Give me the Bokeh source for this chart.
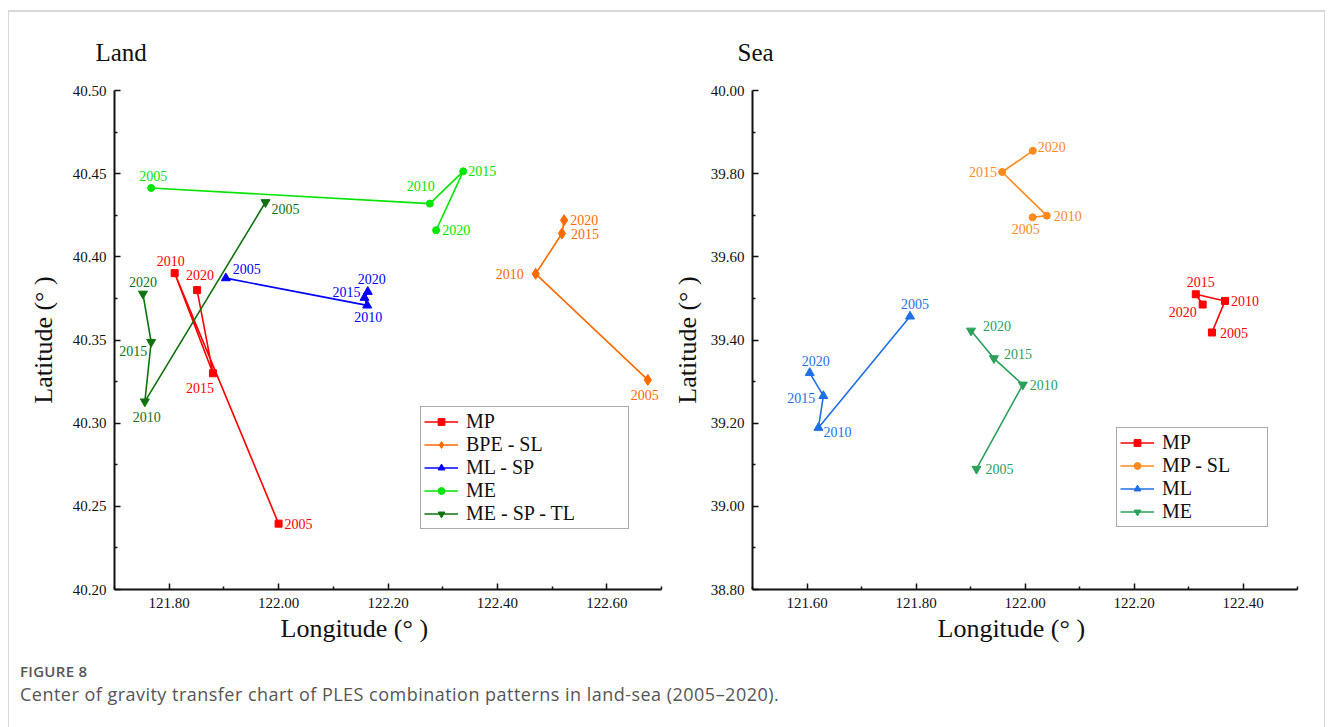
from bokeh.plotting import figure
from bokeh.models import (ColumnDataSource, FixedTicker, Legend, LegendItem, Div, Title)
from bokeh.layouts import row, column
from bokeh.core.properties import value
from bokeh.embed import file_html
from bokeh.resources import INLINE

# ---------------- data ----------------
YEARS = ["2005", "2010", "2015", "2020"]

# Land
land_MP_lon = [122.000, 121.810, 121.880, 121.851]
land_MP_lat = [40.2396, 40.3902, 40.330, 40.380]
land_BPE_lon = [122.675, 122.470, 122.518, 122.522]
land_BPE_lat = [40.326, 40.3898, 40.414, 40.422]
land_MLSP_lon = [121.9035, 122.162, 122.157, 122.163]
land_MLSP_lat = [40.3872, 40.3708, 40.3754, 40.379]
land_ME_lon = [121.767, 122.2765, 122.3375, 122.288]
land_ME_lat = [40.4414, 40.432, 40.4514, 40.416]
land_MESPTL_lon = [121.976, 121.7555, 121.767, 121.752]
land_MESPTL_lat = [40.4328, 40.313, 40.3488, 40.3778]

# Sea
sea_MP_lon = [122.343, 122.367, 122.3134, 122.326]
sea_MP_lat = [39.418, 39.494, 39.510, 39.4853]
sea_MPSL_lon = [122.014, 122.040, 121.958, 122.0143]
sea_MPSL_lat = [39.695, 39.699, 39.804, 39.855]
sea_ML_lon = [121.789, 121.621, 121.630, 121.605]
sea_ML_lat = [39.4567, 39.189, 39.2655, 39.321]
sea_ME_lon = [121.911, 121.996, 121.943, 121.901]
sea_ME_lat = [39.090, 39.2925, 39.356, 39.4223]

land_x_ticks = [121.80, 122.00, 122.20, 122.40, 122.60]
land_y_ticks = [40.20, 40.25, 40.30, 40.35, 40.40, 40.45, 40.50]
sea_x_ticks = [121.60, 121.80, 122.00, 122.20, 122.40]
sea_y_ticks = [38.80, 39.00, 39.20, 39.40, 39.60, 39.80, 40.00]

# label placement (screen px offset, alignment) per year
land_MP_pos = [(6, 0, "left"), (-4, -12, "center"), (-13, 15, "center"), (3, -15, "center")]
land_BPE_pos = [(-3, 15, "center"), (-12, 0, "right"), (9, 0, "left"), (6, 0, "left")]
land_MLSP_pos = [(7, -9, "left"), (1, 12, "center"), (-4, -6, "right"), (4, -13, "center")]
land_ME_pos = [(2, -12, "center"), (-9, -18, "center"), (5, 0, "left"), (6, 0, "left")]
land_MESPTL_pos = [(6, 7, "left"), (2, 15, "center"), (-4, 9, "right"), (0, -12, "center")]

sea_MP_pos = [(8, 0, "left"), (6, 0, "left"), (5, -12, "center"), (-6, 7, "right")]
sea_MPSL_pos = [(-7, 12, "center"), (7, 0, "left"), (-5, 0, "right"), (5, -4, "left")]
sea_ML_pos = [(5, -12, "center"), (5, 4, "left"), (-8, 2, "right"), (6, -12, "center")]
sea_ME_pos = [(9, 0, "left"), (7, 0, "left"), (10, -4, "left"), (12, -5, "left")]

SERIF = "Liberation Serif"


def fmt(v):
    return "%.2f" % v


def make_fig(title, title_off, xlab_off, ylab_standoff, xr, yr, xt, xminor, yt, yminor,
             width, height, left, right, top, bottom):
    p = figure(width=width, height=height, x_range=xr, y_range=yr,
               output_backend="svg", toolbar_location=None,
               min_border_left=left, min_border_right=right,
               min_border_top=top, min_border_bottom=bottom)
    p.title.text = title
    p.title.text_font = SERIF
    p.title.text_font_size = "25px"
    p.title.text_font_style = "normal"
    p.title.text_color = "#111111"
    p.title.align = "left"
    p.title.offset = title_off
    p.title.standoff = 50
    p.outline_line_color = None
    p.grid.visible = False
    p.background_fill_color = "white"
    p.border_fill_color = "white"
    for ax, ticks, minor in ((p.xaxis[0], xt, xminor), (p.yaxis[0], yt, yminor)):
        ax.ticker = FixedTicker(ticks=ticks, minor_ticks=minor)
        ax.major_label_overrides = {t: fmt(t) for t in ticks}
        ax.major_label_text_font = SERIF
        ax.major_label_text_font_size = "15px"
        ax.major_label_text_color = "#111111"
        ax.axis_line_width = 2
        ax.axis_line_color = "#111111"
        ax.major_tick_in = 6
        ax.major_tick_out = 0
        ax.minor_tick_in = 3
        ax.minor_tick_out = 0
        ax.major_tick_line_width = 1.5
        ax.minor_tick_line_width = 1.5
        ax.major_tick_line_color = "#111111"
        ax.minor_tick_line_color = "#111111"
        ax.axis_label_text_font = SERIF
        ax.axis_label_text_font_size = "26px"
        ax.axis_label_text_font_style = "normal"
        ax.axis_label_text_color = "#111111"
    p.yaxis.axis_label = "Latitude (° )"
    p.xaxis.major_label_standoff = 8
    p.yaxis.major_label_standoff = 8
    p.yaxis.axis_label_standoff = ylab_standoff
    xt_title = Title(text="Longitude (° )", align="left", offset=xlab_off,
                     text_font=SERIF, text_font_size="26px", text_font_style="normal",
                     text_color="#111111", standoff=2)
    p.add_layout(xt_title, "below")
    return p


def add_series(p, lon, lat, pos, color, marker, size):
    src = ColumnDataSource(dict(x=lon, y=lat, t=YEARS,
                                dx=[a[0] for a in pos], dy=[a[1] for a in pos],
                                al=[a[2] for a in pos]))
    ln = p.line("x", "y", source=src, line_color=color, line_width=1.6)
    sc = p.scatter("x", "y", source=src, marker=marker, size=size,
                   fill_color=color, line_color=color)
    p.text("x", "y", text="t", source=src, x_offset="dx", y_offset="dy",
           text_align="al", text_baseline="middle", text_color=color,
           text_font=value(SERIF), text_font_size="14px")
    return [ln, sc]


# -------- Land --------
p1 = make_fig("Land", -19, 166, 12, (121.70, 122.70), (40.20, 40.50),
              land_x_ticks, [121.70, 121.90, 122.10, 122.30, 122.50, 122.70],
              land_y_ticks, [40.225, 40.275, 40.325, 40.375, 40.425, 40.475],
              665, 650, 114, 4, 89, 61)

land_series = [
    ("MP", land_MP_lon, land_MP_lat, land_MP_pos, "#ff0000", "square", 7),
    ("BPE - SL", land_BPE_lon, land_BPE_lat, land_BPE_pos, "#ff6a00", "diamond", 11),
    ("ML - SP", land_MLSP_lon, land_MLSP_lat, land_MLSP_pos, "#0000ff", "triangle", 9),
    ("ME", land_ME_lon, land_ME_lat, land_ME_pos, "#00e600", "circle", 7),
    ("ME - SP - TL", land_MESPTL_lon, land_MESPTL_lat, land_MESPTL_pos, "#0f720f", "inverted_triangle", 9),
]
items1 = []
for name, lo, la, ps, c, m, s in land_series:
    items1.append(LegendItem(label=name, renderers=add_series(p1, lo, la, ps, c, m, s)))

# -------- Sea --------
p2 = make_fig("Sea", -15, 185, 6, (121.50, 122.50), (38.80, 40.00),
              sea_x_ticks, [121.50, 121.70, 121.90, 122.10, 122.30, 122.50],
              sea_y_ticks, [38.90, 39.10, 39.30, 39.50, 39.70, 39.90],
              665, 650, 87, 33, 90, 58)

sea_series = [
    ("MP", sea_MP_lon, sea_MP_lat, sea_MP_pos, "#ff0000", "square", 7),
    ("MP - SL", sea_MPSL_lon, sea_MPSL_lat, sea_MPSL_pos, "#ff8a1e", "circle", 7),
    ("ML", sea_ML_lon, sea_ML_lat, sea_ML_pos, "#1f6fe5", "triangle", 9),
    ("ME", sea_ME_lon, sea_ME_lat, sea_ME_pos, "#2aa05a", "inverted_triangle", 9),
]
items2 = []
for name, lo, la, ps, c, m, s in sea_series:
    items2.append(LegendItem(label=name, renderers=add_series(p2, lo, la, ps, c, m, s)))


def style_legend(items, loc, lw):
    lg = Legend(items=items, location=loc)
    lg.label_text_font = SERIF
    lg.label_text_font_size = "20px"
    lg.label_text_color = "#111111"
    lg.label_height = 17
    lg.label_width = lw
    lg.glyph_height = 17
    lg.glyph_width = 34
    lg.label_standoff = 8
    lg.spacing = 0
    lg.padding = 3
    lg.margin = 0
    lg.border_line_color = "#555555"
    lg.border_line_width = 1
    lg.background_fill_color = "white"
    lg.background_fill_alpha = 1
    return lg


p1.add_layout(style_legend(items1, (306, 60), 159), "center")
p2.add_layout(style_legend(items2, (364, 62), 102), "center")

caption = Div(text=(
    '<div style="position:fixed;left:8px;top:10px;width:1317px;height:760px;'
    'border:1px solid #d8d8d8;border-top:2px solid #d8d8d8;pointer-events:none"></div>'
    '<div style="font-family:\'Open Sans\';color:#555;margin-left:15px;">'
    '<div style="font-size:15px;font-weight:600;line-height:20px;letter-spacing:0.3px;">FIGURE 8</div>'
    '<div style="font-size:18px;line-height:26px;letter-spacing:0.48px;">Center of gravity transfer chart of PLES '
    'combination patterns in land-sea (2005\u20132020).</div></div>'),
    width=1330, height=77, styles={"padding-top": "6px"})

layout = column(row(p1, p2), caption)
open("out.html", "w").write(file_html(layout, INLINE))
